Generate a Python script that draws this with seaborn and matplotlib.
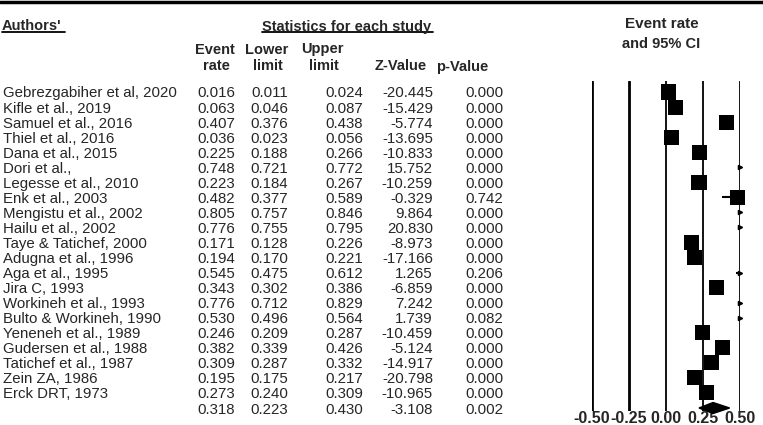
"""
Forest plot – pooled event rate and 95% CI per study
"""
import numpy as np
import pandas as pd
import matplotlib.pyplot as plt
import matplotlib.transforms as mtransforms
from matplotlib.lines import Line2D
import seaborn as sns


# -----------------------------
# Data
# -----------------------------

authors = [
    "Gebrezgabiher et al, 2020", "Kifle et al., 2019", "Samuel et al., 2016",
    "Thiel et al., 2016", "Dana et al., 2015", "Dori et al.,",
    "Legesse et al., 2010", "Enk et al., 2003", "Mengistu et al., 2002",
    "Hailu et al., 2002", "Taye & Tatichef, 2000", "Adugna et al., 1996",
    "Aga et al., 1995", "Jira C, 1993", "Workineh et al., 1993",
    "Bulto & Workineh, 1990", "Yeneneh et al., 1989", "Gudersen et al., 1988",
    "Tatichef et al., 1987", "Zein ZA, 1986", "Erck DRT, 1973",
]
event_rate = [0.016, 0.063, 0.407, 0.036, 0.225, 0.748, 0.223, 0.482, 0.805,
              0.776, 0.171, 0.194, 0.545, 0.343, 0.776, 0.530, 0.246, 0.382,
              0.309, 0.195, 0.273]
lower_limit = [0.011, 0.046, 0.376, 0.023, 0.188, 0.721, 0.184, 0.377, 0.757,
               0.755, 0.128, 0.170, 0.475, 0.302, 0.712, 0.496, 0.209, 0.339,
               0.287, 0.175, 0.240]
upper_limit = [0.024, 0.087, 0.438, 0.056, 0.266, 0.772, 0.267, 0.589, 0.846,
               0.795, 0.226, 0.221, 0.612, 0.386, 0.829, 0.564, 0.287, 0.426,
               0.332, 0.217, 0.309]
z_value = [-20.445, -15.429, -5.774, -13.695, -10.833, 15.752, -10.259, -0.329,
           9.864, 20.830, -8.973, -17.166, 1.265, -6.859, 7.242, 1.739,
           -10.459, -5.124, -14.917, -20.798, -10.965]
p_value = [0.000, 0.000, 0.000, 0.000, 0.000, 0.000, 0.000, 0.742, 0.000,
           0.000, 0.000, 0.000, 0.206, 0.000, 0.000, 0.082, 0.000, 0.000,
           0.000, 0.000, 0.000]

pooled_rate = 0.318
pooled_lower = 0.223
pooled_upper = 0.430
pooled_z = -3.108
pooled_p = 0.002

x_ticks = [-0.50, -0.25, 0.00, 0.25, 0.50]


# -----------------------------
# Plot
# -----------------------------

def make_plot():

    sns.set_theme(style="white")
    plt.rcParams["font.family"] = ["Liberation Sans", "DejaVu Sans"]

    W, H = 763, 425
    fig = plt.figure(figsize=(W / 100, H / 100), dpi=100)

    df = pd.DataFrame({
        "author": authors,
        "rate": event_rate,
        "lower": lower_limit,
        "upper": upper_limit,
        "z": z_value,
        "p": p_value,
    })
    df["row"] = np.arange(len(df))
    n = len(df)
    pooled_row = n

    # forest panel, placed in pixel units of the reference
    x0, x1 = 592, 740
    top, bottom = 81, 411
    ax = fig.add_axes([x0 / W, (H - bottom) / H, (x1 - x0) / W, (bottom - top) / H])
    step = (408 - 92) / pooled_row
    ax.set_xlim(-0.5, 0.5)
    ax.set_ylim(pooled_row + (bottom - 408) / step, -(92 - top) / step)
    for side in ax.spines.values():
        side.set_visible(False)

    widths = [2.0, 2.0, 1.3, 1.3, 2.0]
    for t, lw in zip(x_ticks, widths):
        ax.axvline(t, color="black", lw=lw, zorder=1)

    # confidence intervals (clipped to the axis like the original)
    ax.hlines(df["row"], df["lower"], df["upper"], color="black", lw=1.5, zorder=2)

    inside = df[df["rate"] <= 0.5]
    outside = df[df["rate"] > 0.5]

    sns.scatterplot(data=inside, x="rate", y="row", marker="s", s=118,
                    color="black", edgecolor="none", clip_on=False,
                    legend=False, ax=ax, zorder=3)
    ax.plot(np.full(len(outside), 0.5), outside["row"], linestyle="none",
            marker=">", markersize=3, color="black", clip_on=False, zorder=3)

    # pooled diamond
    h = 5.5 / step
    ax.fill([pooled_lower, pooled_rate, pooled_upper, pooled_rate],
            [pooled_row, pooled_row - h, pooled_row, pooled_row + h],
            color="black", clip_on=False, zorder=3)

    ax.set_xticks(x_ticks)
    ax.set_xticklabels([f"{t:.2f}" for t in x_ticks], fontsize=11.5,
                       fontweight="bold")
    ax.tick_params(axis="x", length=0, pad=0)
    ax.set_yticks([])
    ax.set_xlabel("")
    ax.set_ylabel("")

    # table columns: x in figure pixels, y in data rows
    trans = mtransforms.blended_transform_factory(fig.transFigure, ax.transData)
    fs = 10.8
    cols = [("rate", 235), ("lower", 288), ("upper", 363), ("z", 433), ("p", 503)]
    for _, r in df.iterrows():
        ax.text(3 / W, r["row"], r["author"], transform=trans, ha="left",
                va="center_baseline", fontsize=fs, clip_on=False)
        for key, px in cols:
            ax.text(px / W, r["row"], f"{r[key]:.3f}", transform=trans,
                    ha="right", va="center_baseline", fontsize=fs, clip_on=False)
    for val, px in zip([pooled_rate, pooled_lower, pooled_upper, pooled_z, pooled_p],
                       [c[1] for c in cols]):
        ax.text(px / W, pooled_row, f"{val:.3f}", transform=trans, ha="right",
                va="center_baseline", fontsize=fs, clip_on=False)

    # headers
    def ftext(px, py, s, ha="center", size=10.5):
        fig.text(px / W, 1 - py / H, s, ha=ha, va="center_baseline",
                 fontsize=size, fontweight="bold")

    ftext(2, 25, "Authors'", ha="left")
    ftext(347, 25, "Statistics for each study")
    ftext(662, 23, "Event rate", size=11)
    ftext(661, 42, "and 95% CI")
    ftext(215, 48, "Event")
    ftext(216, 65, "rate")
    ftext(267, 48, "Lower")
    ftext(268, 65, "limit")
    ftext(322, 48, "Upper")
    ftext(324, 65, "limit")
    ftext(401, 65, "Z-Value")
    ftext(462, 65, "p-Value")

    def fline(xa, xb, py, lw):
        fig.add_artist(Line2D([xa / W, xb / W], [1 - py / H, 1 - py / H],
                              color="black", lw=lw, transform=fig.transFigure))

    fline(0, W, 1.5, 2.5)
    fline(2, 65, 32, 1.3)
    fline(262, 433, 32, 1.3)

    fig.savefig("out.png", dpi=100)


def main():
    make_plot()


if __name__ == "__main__":
    main()
